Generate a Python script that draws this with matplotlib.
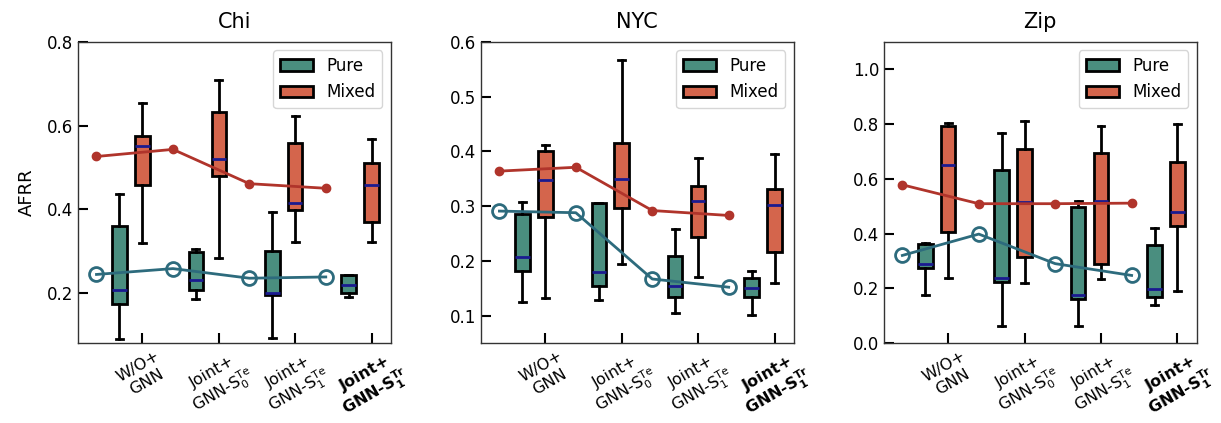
import matplotlib
matplotlib.use("Agg")
import matplotlib.pyplot as plt
from matplotlib.patches import Patch

cities = ["Chi", "NYC", "Zip"]
tick_labels = ["W/O+\nGNN", "Joint+\nGNN-S$_0^{\\mathrm{Te}}$",
               "Joint+\nGNN-S$_1^{\\mathrm{Te}}$", "Joint+\nGNN-S$_\\mathbf{1}^\\mathbf{Tr}$"]

# box stats per group: (whislo, q1, med, q3, whishi)
chi_pure = [(0.09, 0.174, 0.207, 0.359, 0.436), (0.185, 0.207, 0.23, 0.297, 0.306),
            (0.091, 0.195, 0.199, 0.301, 0.394), (0.191, 0.199, 0.219, 0.242, 0.242)]
chi_mixed = [(0.319, 0.458, 0.551, 0.575, 0.655), (0.283, 0.479, 0.521, 0.633, 0.708),
             (0.321, 0.399, 0.414, 0.559, 0.622), (0.322, 0.369, 0.457, 0.510, 0.569)]
nyc_pure = [(0.125, 0.181, 0.208, 0.286, 0.307), (0.129, 0.154, 0.180, 0.305, 0.306),
            (0.104, 0.134, 0.154, 0.209, 0.258), (0.101, 0.135, 0.150, 0.169, 0.181)]
nyc_mixed = [(0.133, 0.281, 0.347, 0.400, 0.411), (0.195, 0.296, 0.350, 0.416, 0.567),
             (0.171, 0.244, 0.310, 0.336, 0.388), (0.160, 0.216, 0.303, 0.332, 0.396)]
zip_pure = [(0.176, 0.273, 0.290, 0.362, 0.365), (0.062, 0.222, 0.236, 0.633, 0.766),
            (0.062, 0.162, 0.175, 0.498, 0.520), (0.138, 0.168, 0.198, 0.357, 0.419)]
zip_mixed = [(0.237, 0.406, 0.650, 0.794, 0.803), (0.221, 0.315, 0.517, 0.708, 0.812),
             (0.235, 0.288, 0.518, 0.695, 0.794), (0.189, 0.428, 0.478, 0.660, 0.799)]

chi_line_mixed = [0.526, 0.543, 0.461, 0.450]
chi_line_pure = [0.244, 0.258, 0.235, 0.238]
nyc_line_mixed = [0.364, 0.371, 0.292, 0.283]
nyc_line_pure = [0.291, 0.288, 0.167, 0.152]
zip_line_mixed = [0.578, 0.509, 0.509, 0.511]
zip_line_pure = [0.320, 0.398, 0.290, 0.247]

ylims = [(0.08, 0.8), (0.05, 0.6), (0.0, 1.1)]
yticks = [[0.2, 0.4, 0.6, 0.8], [0.1, 0.2, 0.3, 0.4, 0.5, 0.6], [0.0, 0.2, 0.4, 0.6, 0.8, 1.0]]

pure_data = [chi_pure, nyc_pure, zip_pure]
mixed_data = [chi_mixed, nyc_mixed, zip_mixed]
line_mixed = [chi_line_mixed, nyc_line_mixed, zip_line_mixed]
line_pure = [chi_line_pure, nyc_line_pure, zip_line_pure]

PURE_C = "#4a8e7f"
MIXED_C = "#d4654c"
LPURE_C = "#2d6b7d"
LMIXED_C = "#b0342b"
MED_C = "#1a1a90"

fig = plt.figure(figsize=(12.21, 4.23), dpi=100)
lefts = [0.064, 0.394, 0.724]
for k in range(3):
    ax = fig.add_axes([lefts[k], 0.189, 0.256, 0.712])
    pos = [0, 1, 2, 3]

    def stats(lst):
        return [dict(whislo=a, q1=b, med=c, q3=d, whishi=e, fliers=[]) for a, b, c, d, e in lst]

    common = dict(widths=0.19, patch_artist=True, showfliers=False, manage_ticks=False,
                  capwidths=0.09,
                  boxprops=dict(linewidth=2, edgecolor="black"),
                  whiskerprops=dict(linewidth=2, color="black"),
                  capprops=dict(linewidth=2, color="black"),
                  medianprops=dict(linewidth=2, color=MED_C))
    bp1 = ax.bxp(stats(pure_data[k]), positions=[p - 0.3 for p in pos], **common)
    for b in bp1["boxes"]:
        b.set_facecolor(PURE_C)
    bp2 = ax.bxp(stats(mixed_data[k]), positions=pos, **common)
    for b in bp2["boxes"]:
        b.set_facecolor(MIXED_C)

    xl = [p - 0.6 for p in pos]
    ax.plot(xl, line_mixed[k], color=LMIXED_C, lw=2, marker="o", ms=6, zorder=5)
    ax.plot(xl, line_pure[k], color=LPURE_C, lw=2, marker="o", ms=10,
            markerfacecolor="none", markeredgewidth=2, zorder=5)

    ax.set_xlim(-0.84, 3.25)
    ax.set_ylim(*ylims[k])
    ax.set_yticks(yticks[k])
    ax.set_xticks(pos)
    ax.set_xticklabels(tick_labels, rotation=30, ha="center", fontsize=11.5)
    ax.get_xticklabels()[3].set_fontweight("bold")
    ax.tick_params(direction="in", length=7, width=1.5, labelsize=12, top=False, right=False)
    ax.tick_params(axis="x", labelsize=11.5, pad=4)
    for s in ax.spines.values():
        s.set_linewidth(1.0)
        s.set_color("#333333")
    ax.set_title(cities[k], fontsize=15, pad=10)
    if k == 0:
        ax.set_ylabel("AFRR", fontsize=13, labelpad=8)
    handles = [Patch(facecolor=PURE_C, edgecolor="black", linewidth=2, label="Pure"),
               Patch(facecolor=MIXED_C, edgecolor="black", linewidth=2, label="Mixed")]
    ax.legend(handles=handles, loc="upper right", fontsize=12)

fig.savefig("out.png", dpi=100)
